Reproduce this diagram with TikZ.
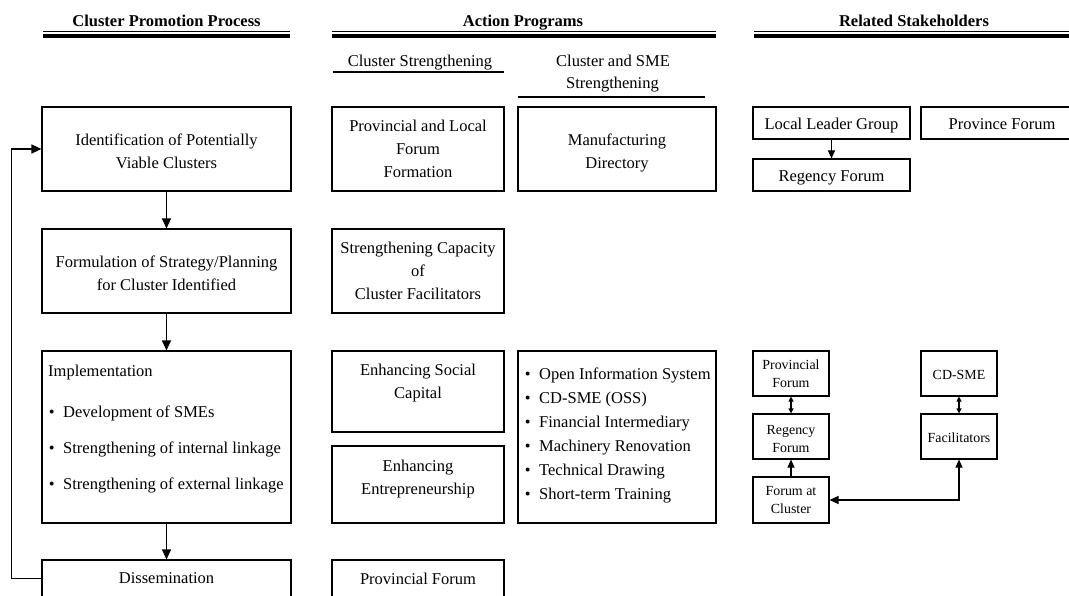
\documentclass[tikz,border=0pt]{standalone}
\usepackage{fontspec}
\setmainfont{Liberation Serif}
\usetikzlibrary{arrows.meta}
\newcommand{\txtdown}[1]{\rule{0pt}{\dimexpr11.5pt+#1pt*2\relax}}
\begin{document}
\begin{tikzpicture}[x=1pt,y=-1pt,
  box/.style={draw, line width=1.1pt, inner sep=0pt, align=center,
    font=\fontsize{16.5}{23}\selectfont},
  sbox/.style={draw, line width=1.1pt, inner sep=0pt, align=center,
    minimum width=76pt, font=\fontsize{13.9}{18}\selectfont},
  txt/.style={inner sep=0pt, align=center, font=\fontsize{16.5}{23}\selectfont},
  btxt/.style={inner sep=0pt, anchor=base, font=\fontsize{16.5}{23}\selectfont},
  ltxt/.style={inner sep=0pt, anchor=base west, font=\fontsize{16.5}{23}\selectfont},
  head/.style={inner sep=0pt, anchor=base, font=\fontsize{16.5}{20}\selectfont\bfseries},
  thinrule/.style={line width=1.2pt},
  thickrule/.style={line width=4pt},
  arr/.style={line width=1.1pt, -{Triangle[length=10pt,width=9pt]}},
  sarr/.style={line width=1.1pt, -{Triangle[length=8pt,width=7pt]}},
  dblarr/.style={line width=1.1pt, {Triangle[length=5pt,width=5pt]}-{Triangle[length=5pt,width=5pt]}},
  lnkarr/.style={line width=1.1pt, {Triangle[length=9pt,width=8pt]}-{Triangle[length=8pt,width=7pt]}}
]
\useasboundingbox (0,0) rectangle (1069,596);
\clip (0,0) rectangle (1069,596);

% Headings
\node[head] (h1) at (166.5,26.5) {Cluster Promotion Process};
\node[head] (h2) at (523,26.5) {Action Programs};
\node[head] (h3) at (914,26.5) {Related Stakeholders};
\draw[thinrule] (43,31.5) -- (290,31.5);
\draw[thickrule] (43,35.7) -- (290,35.7);
\draw[thinrule] (332,31.5) -- (716,31.5);
\draw[thickrule] (332,35.7) -- (716,35.7);
\draw[thinrule] (754,31.5) -- (1075,31.5);
\draw[thickrule] (754,35.7) -- (1075,35.7);

% Sub-headings
\node[btxt] (sh1) at (420,66.8) {Cluster Strengthening};
\draw[thinrule] (333,72) -- (504,72);
\node[btxt] (sh2a) at (613,66.8) {Cluster and SME};
\node[btxt] (sh2b) at (612.5,88.8) {Strengthening};
\draw[thinrule] (518,97) -- (705,97);

% Left column
\node[box, minimum width=249pt, minimum height=84pt] (ident) at (166.5,149) {\txtdown{2}Identification of Potentially\\Viable Clusters};
\node[box, minimum width=249pt, minimum height=84pt] (form) at (166.5,271) {\txtdown{2}Formulation of Strategy/Planning\\for Cluster Identified};
\node[box, minimum width=249pt, minimum height=172pt] (impl) at (166.5,437) {};
\node[ltxt] (implt) at (48,376.5) {Implementation};
\node[ltxt] (impl1) at (63,417.5) {\llap{\textbullet\hspace{8.5pt}}Development of SMEs};
\node[ltxt] (impl2) at (63,453.5) {\llap{\textbullet\hspace{8.5pt}}Strengthening of internal linkage};
\node[ltxt] (impl3) at (63,489.5) {\llap{\textbullet\hspace{8.5pt}}Strengthening of external linkage};
\node[box, minimum width=249pt, minimum height=37pt] (diss) at (166.5,578.5) {Dissemination};

\draw[arr] (ident.south) -- (form.north);
\draw[arr] (form.south) -- (impl.north);
\draw[arr] (impl.south) -- (diss.north);
\draw[arr] (diss.west) -- ++(-30,0) |- (ident.west);

% Middle column: Cluster Strengthening
\node[box, minimum width=172pt, minimum height=84pt] (plf) at (418,149) {Provincial and Local\\Forum\\Formation};
\node[box, minimum width=172pt, minimum height=84pt] (scap) at (418,271) {Strengthening Capacity\\of\\Cluster Facilitators};
\node[box, minimum width=172pt, minimum height=81pt] (esc) at (418,391.5) {};
\node[txt] (esct) at (418,383) {Enhancing Social\\Capital};
\node[box, minimum width=172pt, minimum height=77pt] (ent) at (418,484.5) {};
\node[txt] (entt) at (418,479) {Enhancing\\Entrepreneurship};
\node[box, minimum width=172pt, minimum height=37pt] (pf) at (418,578.5) {Provincial Forum};

% Middle column: Cluster and SME Strengthening
\node[box, minimum width=198pt, minimum height=84pt] (md) at (617,149) {\txtdown{4}Manufacturing\\Directory};
\node[box, minimum width=198pt, minimum height=172pt] (bl) at (617,437) {};
\foreach \t [count=\i] in {Open Information System, CD-SME (OSS), Financial Intermediary, Machinery Renovation, Technical Drawing, Short-term Training}
  \node[ltxt] (bl\i) at (539,{355.5+24*\i}) {\llap{\textbullet\hspace{8.5pt}}\t};

% Right column top
\node[box, minimum width=157pt, minimum height=32pt] (llg) at (831.5,123) {\txtdown{3}Local Leader Group};
\node[box, minimum width=162pt, minimum height=32pt] (provf) at (1002,123) {\txtdown{1}Province Forum};
\node[box, minimum width=157pt, minimum height=32pt] (rf) at (831.5,175) {\txtdown{3}Regency Forum};
\draw[sarr] (llg.south) -- (rf.north);

% Right column bottom
\node[sbox, minimum height=45pt] (pfs) at (791,373.5) {Provincial\\Forum};
\node[sbox, minimum height=45pt] (rfs) at (791,436.5) {\txtdown{1}Regency\\Forum};
\node[sbox, minimum height=46pt] (fc) at (791,500) {Forum at\\Cluster};
\node[sbox, minimum height=45pt] (cds) at (959,373.5) {\txtdown{0}CD-SME};
\node[sbox, minimum height=45pt] (fac) at (959,436.5) {\txtdown{0}Facilitators};
\draw[dblarr] (pfs.south) -- (rfs.north);
\draw[dblarr] (cds.south) -- (fac.north);
\draw[sarr] (fc.north) -- (rfs.south);
\draw[lnkarr] (fc.east) -| (fac.south);
\end{tikzpicture}
\end{document}
